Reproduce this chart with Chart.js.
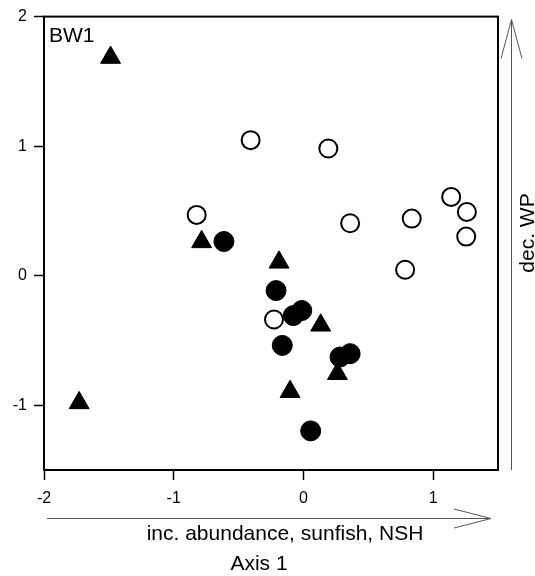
<!DOCTYPE html>
<html>
<head>
<meta charset="utf-8">
<script src="https://cdn.jsdelivr.net/npm/chart.js@4.4.1/dist/chart.umd.min.js"></script>
<style>
  html, body { margin: 0; padding: 0; background: #fff; }
</style>
</head>
<body>
<canvas id="ordination" width="535" height="576"></canvas>
<script>
// axis 1 / axis 2 scores
const openCircleX = [-0.407, 0.192, 1.139, 1.260, 1.255, 0.835, 0.360, 0.784, -0.823, -0.227];
const openCircleY = [1.046, 0.982, 0.608, 0.492, 0.302, 0.441, 0.405, 0.046, 0.469, -0.338];

const filledCircleX = [-0.613, -0.211, -0.078, -0.013, -0.163, 0.282, 0.360, 0.056];
const filledCircleY = [0.264, -0.115, -0.308, -0.269, -0.538, -0.628, -0.602, -1.198];

const triangleX = [-1.487, -1.729, -0.785, -0.188, 0.133, 0.262, -0.103];
const triangleY = [1.684, -0.982, 0.261, 0.103, -0.383, -0.757, -0.896];

const xTicks = [-2, -1, 0, 1];
const yTicks = [-1, 0, 1, 2];

const plotLabel = 'BW1';
const xArrowLabel = 'inc. abundance, sunfish, NSH';
const xAxisTitle = 'Axis 1';
const yArrowLabel = 'dec. WP';

const FONT = '"Liberation Sans", Arial, sans-serif';

function toPoints(xs, ys) {
    return xs.map((x, i) => ({ x: x, y: ys[i] }));
}

function drawArrow(ctx, x1, y1, x2, y2, headLen, headHalf) {
    const ang = Math.atan2(y2 - y1, x2 - x1);
    const bx = x2 - Math.cos(ang) * headLen;
    const by = y2 - Math.sin(ang) * headLen;
    const px = -Math.sin(ang) * headHalf;
    const py = Math.cos(ang) * headHalf;
    ctx.beginPath();
    ctx.moveTo(x1, y1);
    ctx.lineTo(x2, y2);
    ctx.moveTo(bx + px, by + py);
    ctx.lineTo(x2, y2);
    ctx.lineTo(bx - px, by - py);
    ctx.stroke();
}

const decor = {
    id: 'decor',
    beforeDatasetsDraw(chart) {
        const { ctx, chartArea: a } = chart;
        ctx.save();
        ctx.strokeStyle = '#000';
        ctx.lineWidth = 2;
        ctx.strokeRect(a.left, a.top, a.right - a.left, a.bottom - a.top);
        ctx.restore();
    },
    afterDraw(chart) {
        const { ctx, chartArea: a } = chart;
        ctx.save();

        ctx.fillStyle = '#000';
        ctx.font = '21px ' + FONT;
        ctx.textBaseline = 'alphabetic';
        ctx.textAlign = 'left';
        ctx.fillText(plotLabel, a.left + 5, a.top + 25);

        // direction arrows
        ctx.strokeStyle = '#555';
        ctx.lineWidth = 1;
        drawArrow(ctx, a.left + 3, a.bottom + 48.5, a.right - 7, a.bottom + 48.5, 37, 9.5);
        drawArrow(ctx, a.right + 13.5, a.bottom, a.right + 13.5, a.top + 3, 39, 10.5);

        ctx.textAlign = 'center';
        ctx.fillText(xArrowLabel, 285, 540);
        ctx.fillText(xAxisTitle, 259, 570);

        ctx.translate(534, 233);
        ctx.rotate(-Math.PI / 2);
        ctx.textBaseline = 'alphabetic';
        ctx.fillText(yArrowLabel, 0, 0);

        ctx.restore();
    }
};

const ctx = document.getElementById('ordination').getContext('2d');

new Chart(ctx, {
    type: 'scatter',
    data: {
        datasets: [
            {
                label: 'open',
                data: toPoints(openCircleX, openCircleY),
                pointStyle: 'circle',
                pointRadius: 9,
                borderWidth: 2,
                borderColor: '#000',
                backgroundColor: '#fff'
            },
            {
                label: 'filled',
                data: toPoints(filledCircleX, filledCircleY),
                pointStyle: 'circle',
                pointRadius: 10,
                borderWidth: 1,
                borderColor: '#000',
                backgroundColor: '#000'
            },
            {
                label: 'triangle',
                data: toPoints(triangleX, triangleY),
                pointStyle: 'triangle',
                pointRadius: 11.5,
                borderWidth: 1,
                borderColor: '#000',
                backgroundColor: '#000'
            }
        ]
    },
    options: {
        responsive: false,
        devicePixelRatio: 1,
        animation: false,
        layout: {
            padding: { top: 15, right: 37, left: 0, bottom: 0 }
        },
        plugins: {
            legend: { display: false },
            tooltip: { enabled: false }
        },
        scales: {
            x: {
                type: 'linear',
                min: -2,
                max: 1.5,
                afterBuildTicks: s => { s.ticks = xTicks.map(v => ({ value: v })); },
                afterFit: s => { s.height = 106; },
                border: { display: false },
                grid: {
                    drawOnChartArea: false,
                    tickLength: 10,
                    tickColor: '#000',
                    tickWidth: 1.5
                },
                ticks: {
                    color: '#000',
                    font: { family: FONT, size: 16 },
                    padding: 9,
                    maxRotation: 0
                }
            },
            y: {
                type: 'linear',
                min: -1.5,
                max: 2,
                afterBuildTicks: s => { s.ticks = yTicks.map(v => ({ value: v })); },
                afterFit: s => { s.width = 44; },
                border: { display: false },
                grid: {
                    drawOnChartArea: false,
                    tickLength: 10,
                    tickColor: '#000',
                    tickWidth: 1.5
                },
                ticks: {
                    color: '#000',
                    font: { family: FONT, size: 16 },
                    padding: 7
                }
            }
        }
    },
    plugins: [decor]
});
</script>
</body>
</html>
